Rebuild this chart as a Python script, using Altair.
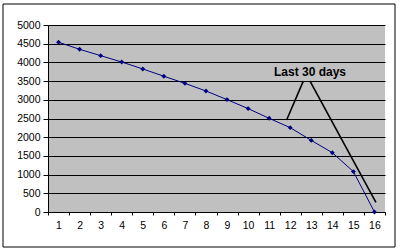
import altair as alt
import pandas as pd

# Data
days = list(range(1, 17))
remaining = [4540, 4350, 4180, 4010, 3825, 3630, 3440, 3235, 3005, 2765, 2505, 2255, 1915, 1585, 1080, 0]

y_ticks = list(range(0, 5001, 500))
x_tick_positions = [d - 0.5 for d in days] + [16.5]

label_text = ["Last 30 days"]
label_x = [12.94]
label_y = [3745]

pointer_x1 = [12.62, 12.94]
pointer_y1 = [3500, 3500]
pointer_x2 = [11.83, 16.07]
pointer_y2 = [2460, 260]

df = pd.DataFrame({"day": days, "remaining": remaining})
label_df = pd.DataFrame({"text": label_text, "x": label_x, "y": label_y})
pointer_df = pd.DataFrame({"x": pointer_x1, "y": pointer_y1, "x2": pointer_x2, "y2": pointer_y2})

FONT = "Liberation Sans"

x_scale = alt.Scale(domain=[0.5, 16.5], nice=False, zero=False)
y_scale = alt.Scale(domain=[0, 5000], nice=False)

x_axis = alt.Axis(
    values=x_tick_positions,
    labelExpr="datum.value < 16 ? format(datum.value + 0.5, 'd') : ''",
    labelOffset=10.5,
    labelFlush=False,
    labelOverlap=False,
    tickSize=3,
    labelPadding=5,
    grid=False,
    domainColor="black",
    tickColor="black",
    labelColor="black",
    labelFont=FONT,
    labelFontSize=10.5,
    title=None,
)
y_axis = alt.Axis(
    values=y_ticks,
    format="d",
    tickSize=5,
    labelPadding=3,
    grid=True,
    gridColor="black",
    gridWidth=1,
    domainColor="black",
    tickColor="black",
    labelColor="black",
    labelFont=FONT,
    labelFontSize=10.5,
    labelOverlap=False,
    title=None,
)

base = alt.Chart(df).encode(
    x=alt.X("day:Q", scale=x_scale, axis=x_axis),
    y=alt.Y("remaining:Q", scale=y_scale, axis=y_axis),
)

line = base.mark_line(color="#000080", strokeWidth=1)
points = base.mark_point(shape="diamond", filled=True, color="#000080", size=24, opacity=1)

pointers = alt.Chart(pointer_df).mark_rule(color="black", strokeWidth=1.6).encode(
    x=alt.X("x:Q", scale=x_scale, axis=x_axis),
    y=alt.Y("y:Q", scale=y_scale, axis=y_axis),
    x2="x2:Q",
    y2="y2:Q",
)

label = alt.Chart(label_df).mark_text(
    font=FONT, fontWeight="bold", fontSize=12, color="black", align="center", baseline="middle"
).encode(
    x=alt.X("x:Q", scale=x_scale, axis=x_axis),
    y=alt.Y("y:Q", scale=y_scale, axis=y_axis),
    text="text:N",
)

border = alt.Chart(pd.DataFrame({"a": [0]})).mark_rect(
    fill="transparent", stroke="black", strokeWidth=1
).encode(
    x=alt.value(-45), x2=alt.value(347), y=alt.value(-21), y2=alt.value(222)
)

chart = alt.layer(line, points, pointers, label, border).properties(
    width=337,
    height=187,
    autosize="none",
    padding={"left": 48, "top": 25, "right": 15, "bottom": 39},
    background="white",
).configure_view(stroke=None, fill="#c0c0c0")

chart.save("out.html", embed_options={"renderer": "svg", "actions": False})
